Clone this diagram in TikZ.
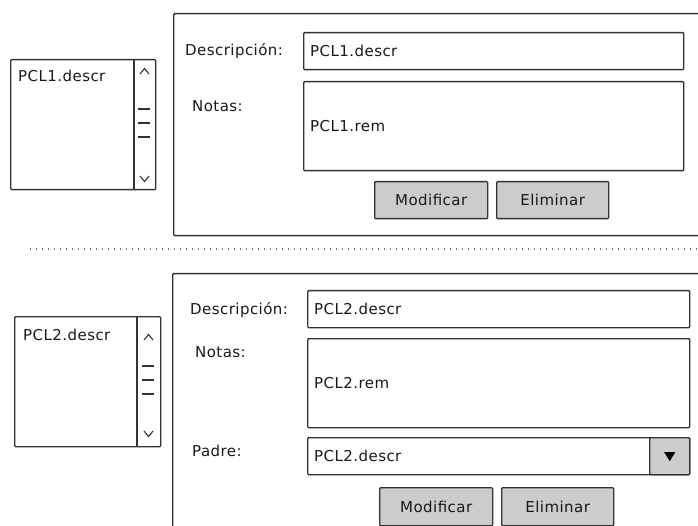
\documentclass[tikz,border=0pt]{standalone}
\usepackage{fontspec}
\setmainfont[LetterSpace=3]{DejaVu Sans}
\usepackage{tikz}

\begin{document}
\begin{tikzpicture}
  [x=1pt,y=-1pt,
   every node/.style={font=\fontsize{15}{18}\selectfont,text=black!90},
   frame/.style={draw=black!80,line width=1.4pt,rounded corners=1pt,anchor=north west,inner sep=0pt},
   field/.style={frame,fill=white},
   btn/.style={frame,fill=gray!40},
   lbl/.style={anchor=west,inner sep=0pt},
   bar/.style={draw=black!80,line width=1.1pt},
   sep/.style={draw=black!55,line width=1.4pt,dash pattern=on 1.3pt off 4.7pt}]
  \useasboundingbox (0,0) rectangle (698,526);

  % first form
  \node[field,minimum width=145pt,minimum height=130pt] (list1) at (10,59) {};
  \node[lbl] (list1txt) at (18,76) {PCL1.descr};
  \draw[bar] (134,59) -- (134,189);
  \draw[bar] (140,74) -- (144.5,68.5) -- (149,74);
  \draw[bar] (140,176) -- (144.5,181.5) -- (149,176);
  \foreach \y in {109,123,137}
    \draw[bar] (138,\y) -- (150,\y);
  \node[frame,minimum width=540pt,minimum height=222pt] (panel1) at (173,13) {};
  \node[lbl] (desc1lbl) at (185,51) {Descripción:};
  \node[field,minimum width=380pt,minimum height=37pt] (desc1) at (303,32) {};
  \node[lbl] (desc1txt) at ([xshift=7pt]desc1.west) {PCL1.descr};
  \node[lbl] (notas1lbl) at (192,106) {Notas:};
  \node[field,minimum width=380pt,minimum height=89pt] (notas1) at (303,81) {};
  \node[lbl] (notas1txt) at ([xshift=7pt]notas1.west) {PCL1.rem};
  \node[btn,minimum width=113pt,minimum height=37pt] (mod1) at (374,181) {Modificar};
  \node[btn,minimum width=112pt,minimum height=37pt] (elim1) at (496,181) {Eliminar};

  % separator
  \coordinate (sepA) at (30,249);
  \coordinate (sepB) at (700,249);
  \draw[sep] (sepA) -- (sepB);

  % second form
  \node[field,minimum width=146pt,minimum height=130pt] (list2) at (14,316) {};
  \node[lbl] (list2txt) at (23,335) {PCL2.descr};
  \draw[bar] (137,316) -- (137,446);
  \draw[bar] (144,340) -- (148.5,334.5) -- (153,340);
  \draw[bar] (144,431) -- (148.5,436.5) -- (153,431);
  \foreach \y in {366,380,394}
    \draw[bar] (142,\y) -- (154,\y);
  \node[frame,minimum width=540pt,minimum height=270pt] (panel2) at (172,273) {};
  \node[lbl] (desc2lbl) at (190,310) {Descripción:};
  \node[field,minimum width=382pt,minimum height=37pt] (desc2) at (307,290) {};
  \node[lbl] (desc2txt) at ([xshift=7pt]desc2.west) {PCL2.descr};
  \node[lbl] (notas2lbl) at (195,352) {Notas:};
  \node[field,minimum width=382pt,minimum height=89pt] (notas2) at (307,338) {};
  \node[lbl] (notas2txt) at ([xshift=7pt]notas2.west) {PCL2.rem};
  \node[lbl] (padrelbl) at (192,451) {Padre:};
  \node[field,minimum width=382pt,minimum height=37pt] (padre) at (307,437) {};
  \node[lbl] (padretxt) at ([xshift=7pt]padre.west) {PCL2.descr};
  \node[btn,minimum width=40pt,minimum height=37pt] (drop) at (649,437) {};
  \fill[black] (drop.center) ++(-5.5,-4) -- ++(11,0) -- ++(-5.5,9) -- cycle;
  \node[btn,minimum width=113pt,minimum height=38pt] (mod2) at (379,487) {Modificar};
  \node[btn,minimum width=112pt,minimum height=38pt] (elim2) at (501,487) {Eliminar};
\end{tikzpicture}
\end{document}
